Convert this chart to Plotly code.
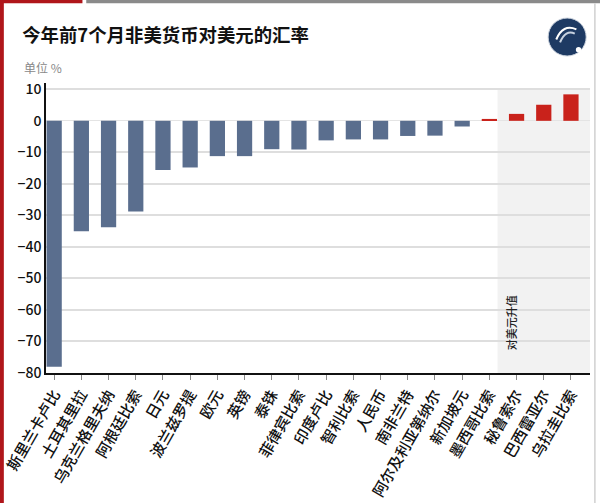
import plotly.graph_objects as go

# 今年前7个月各货币对美元的涨跌幅（%）
currencies = ["斯里兰卡卢比", "土耳其里拉", "乌克兰格里夫纳", "阿根廷比索", "日元", "波兰兹罗提",
              "欧元", "英镑", "泰铢", "菲律宾比索", "印度卢比", "智利比索", "人民币", "南非兰特",
              "阿尔及利亚第纳尔", "新加坡元", "墨西哥比索", "秘鲁索尔", "巴西雷亚尔", "乌拉圭比索"]
change = [-78, -35, -33.8, -28.8, -15.6, -14.8, -11.2, -11.2, -9.0, -9.1,
          -6.2, -5.9, -5.9, -4.8, -4.7, -1.8, 0.6, 2.2, 5.1, 8.4]
y_ticks = [10, 0, -10, -20, -30, -40, -50, -60, -70, -80]

blue = "#5a6e8e"
red = "#c9221b"
colors = [red if v > 0 else blue for v in change]

font_family = "Noto Sans CJK SC, Noto Sans, sans-serif"

fig = go.Figure()

fig.add_trace(go.Bar(
    x=list(range(len(currencies))),
    y=change,
    marker=dict(color=colors, line=dict(width=0)),
    width=0.56,
    hoverinfo="y"
))

# shaded zone for currencies that rose against the dollar
fig.add_shape(type="rect", xref="x", yref="paper", x0=16.3, x1=19.7, y0=0, y1=0.98,
              fillcolor="#f2f2f2", line=dict(width=0), layer="below")

fig.add_annotation(x=16.78, y=-64, xref="x", yref="y", text="对美元升值",
                   textangle=-90, showarrow=False,
                   font=dict(size=11, color="#222", family=font_family, weight=500))

# page frame (paper coords: plot area is 544 x 290 px, starting at x=46, bottom at y=373)
fig.add_shape(type="rect", xref="paper", yref="paper", x0=-0.0846, x1=-0.0775, y0=-0.5, y1=1.3,
              fillcolor="#b0161b", line=dict(width=0))
fig.add_shape(type="rect", xref="paper", yref="paper", x0=-0.0846, x1=0.067, y0=1.275, y1=1.3,
              fillcolor="#b0161b", line=dict(width=0))
fig.add_shape(type="rect", xref="paper", yref="paper", x0=0.074, x1=1.02, y0=1.275, y1=1.3,
              fillcolor="#8a8a8a", line=dict(width=0))
fig.add_shape(type="line", xref="paper", yref="paper", x0=1.009, x1=1.009, y0=-0.5, y1=1.275,
              line=dict(color="#d0d0d0", width=1.5))

# logo
fig.add_shape(type="circle", xref="paper", yref="paper", x0=0.923, x1=0.993, y0=1.093, y1=1.224,
              fillcolor="#1e3a63", line=dict(color="#cfd6e0", width=1))
fig.add_shape(type="path", xref="paper", yref="paper",
              path="M 0.938,1.150 Q 0.950,1.205 0.975,1.185",
              line=dict(color="white", width=2))
fig.add_shape(type="path", xref="paper", yref="paper",
              path="M 0.945,1.140 Q 0.955,1.185 0.972,1.170",
              line=dict(color="#c8d2e0", width=2))
fig.add_shape(type="circle", xref="paper", yref="paper", x0=0.974, x1=0.984, y0=1.105, y1=1.124,
              fillcolor="white", line=dict(width=0))

fig.add_annotation(xref="paper", yref="paper", x=-0.044, y=1.055, xanchor="left", yanchor="middle",
                   text="单位 %", showarrow=False,
                   font=dict(size=12, color="#888", family=font_family))

fig.update_layout(
    width=600, height=503,
    margin=dict(l=46, r=10, t=83, b=130),
    paper_bgcolor="white",
    plot_bgcolor="white",
    showlegend=False,
    bargap=0.4,
    font=dict(family=font_family, color="#111"),
    title=dict(text="<b>今年前7个月非美货币对美元的汇率</b>", x=0.037, xanchor="left",
               y=0.93, yanchor="middle", font=dict(size=18.4, color="#111", family=font_family)),
    xaxis=dict(
        tickmode="array",
        tickvals=list(range(len(currencies))),
        ticktext=currencies,
        tickangle=-60,
        range=[-0.3, 19.7],
        automargin=False,
        showgrid=False,
        showline=True, linecolor="#111", linewidth=1.5,
        ticks="outside", ticklen=5, tickcolor="#888",
        tickfont=dict(size=15, color="#111", weight=500),
        zeroline=False
    ),
    yaxis=dict(
        range=[-80, 12],
        tickvals=y_ticks,
        automargin=False,
        showgrid=True, gridcolor="#dedede", gridwidth=1.5,
        showline=True, linecolor="#111", linewidth=1.5,
        ticks="", tickfont=dict(size=14, color="#111", weight=500),
        zeroline=True, zerolinecolor="#e4e4e4", zerolinewidth=1
    ),
)

fig.write_html("out.html", config={"displayModeBar": False},
               post_script="document.body.style.margin='0';")
